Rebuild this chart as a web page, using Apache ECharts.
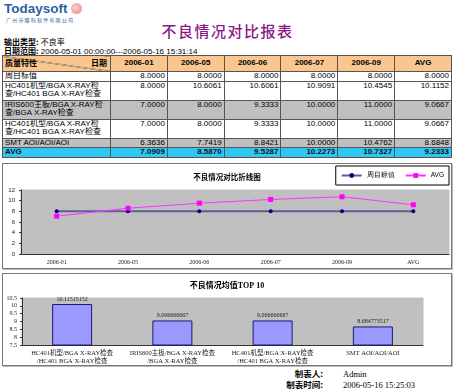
<!DOCTYPE html>
<html><head><meta charset="utf-8">
<script src="https://cdn.jsdelivr.net/npm/echarts@6/dist/echarts.min.js"></script>
<style>
html,body{margin:0;padding:0;background:#fff;width:455px;height:390px;overflow:hidden;position:relative;font-family:"Liberation Sans","Noto Sans CJK SC",sans-serif;}
.abs{position:absolute;}
#logo{left:4px;top:1px;font:bold 13.5px "Liberation Sans",sans-serif;color:#2a62a8;letter-spacing:0px;}
#logoDot{left:71px;top:3px;width:11px;height:11px;border-radius:50%;background:radial-gradient(circle at 40% 40%,#fbd0d0,#e88080);}
#logoSub{left:6px;top:16px;font-size:5px;color:#2a62a8;letter-spacing:1.2px;}
#title{left:0;width:455px;top:20px;text-align:center;font:500 15px "Noto Sans CJK SC",sans-serif;color:#8a1a8a;letter-spacing:1.5px;}
.info{left:4px;font-size:8px;color:#000;}
.info b{font-family:"Noto Sans CJK SC";}
table{position:absolute;left:2px;top:55px;border-collapse:collapse;width:450px;font-size:8px;table-layout:fixed;}
td{border:1px solid #555;padding:0 2px;line-height:8.5px;vertical-align:top;overflow:hidden;}
td.n{text-align:right;}
tr.h td{background:#f9c690;font-weight:bold;text-align:center;vertical-align:middle;}
tr.g td{background:#c0c0c0;}
tr.a td{background:#2fc8f5;font-weight:bold;color:#111;}
td.diag{background:linear-gradient(to top right,#f9c690 calc(50% - 0.6px),#444 50%,#f9c690 calc(50% + 0.6px)) !important;text-align:left !important;position:relative;}
.box{position:absolute;left:2px;width:450px;box-sizing:border-box;border:1px solid #777;box-shadow:1px 1px 0 #bbb;}
.foot{font-size:8.5px;}
.foot b{font-family:"Noto Sans CJK SC";display:inline-block;width:70px;text-align:right;margin-right:20px;}
.foot span{font-family:"Liberation Serif",serif;}
</style></head>
<body>
<div id="logo" class="abs">Todaysoft</div>
<div id="logoDot" class="abs"></div>
<div id="logoSub" class="abs">广州市腾科软件有限公司</div>
<div id="title" class="abs">不良情况对比报表</div>
<div class="abs info" style="top:36px"><b>输出类型:</b> 不良率</div>
<div class="abs info" style="top:45px"><b>日期范围:</b> 2006-05-01 00:00:00---2006-05-16 15:31:14</div>
<table id="tbl"></table>
<div id="lineChart" class="box" style="top:163px;height:106px;"></div>
<div id="barChart" class="box" style="top:273px;height:93px;"></div>
<div class="abs foot" style="left:253px;top:367px;"><b>制表人:</b><span>Admin</span></div>
<div class="abs foot" style="left:253px;top:378px;"><b>制表时间:</b><span>2006-05-16 15:25:03</span></div>
<script>
// ---- data ----
var periods = ['2006-01','2006-05','2006-06','2006-07','2006-09','AVG'];
var rowNames = ['周目标值','HC401机型/BGA X-RAY检查/HC401 BGA X-RAY检查','IRIS600主板/BGA X-RAY检查/BGA X-RAY检查','HC401机型/BGA X-RAY检查/HC401 BGA X-RAY检查','SMT AOI/AOI/AOI','AVG'];
var targetValues = [8.0000, 8.0000, 8.0000, 8.0000, 8.0000, 8.0000];
var hc401aValues = [8.0000, 10.6061, 10.6061, 10.9091, 10.4545, 10.1152];
var irisValues   = [7.0000, 8.0000, 9.3333, 10.0000, 11.0000, 9.0667];
var hc401bValues = [7.0000, 8.0000, 9.3333, 10.0000, 11.0000, 9.0667];
var smtValues    = [6.3636, 7.7419, 8.8421, 10.0000, 10.4762, 8.6848];
var avgValues    = [7.0909, 8.5870, 9.5287, 10.2273, 10.7327, 9.2333];
var lineLegend = ['周目标值','AVG'];
var topCategories = ['HC401机型/BGA X-RAY检查\n/HC401 BGA X-RAY检查','IRIS600主板/BGA X-RAY检查\n/BGA X-RAY检查','HC401机型/BGA X-RAY检查\n/HC401 BGA X-RAY检查','SMT AOI/AOI/AOI'];
var topValues = [10.11515152, 9.066666667, 9.066666667, 8.684773517];
var topLabels = ['10.11515152','9.066666667','9.066666667','8.684773517'];

// ---- table ----
var rows = [targetValues, hc401aValues, irisValues, hc401bValues, smtValues, avgValues];
var rowCls = ['', '', 'g', '', 'g', 'a'];
var rowH = [8, 18, 18, 18, 8, 8];
var html = '<colgroup><col style="width:108px">' + periods.map(function(){return '<col>';}).join('') + '</colgroup>';
html += '<tr class="h"><td class="diag" style="height:15px"><span style="position:absolute;left:2px;top:4px">质量特性</span><span style="position:absolute;right:3px;top:4px">日期</span></td>' + periods.map(function(p){return '<td>'+p+'</td>';}).join('') + '</tr>';
rows.forEach(function(r,i){
  html += '<tr class="'+rowCls[i]+'"><td style="height:'+rowH[i]+'px;word-break:break-all">'+rowNames[i]+'</td>' + r.map(function(v){return '<td class="n">'+v.toFixed(4)+'</td>';}).join('') + '</tr>';
});
document.getElementById('tbl').innerHTML = html;

var serifFont = '"Liberation Serif","Noto Sans CJK SC",serif';

// ---- line chart ----
var lc = echarts.init(document.getElementById('lineChart'));
lc.setOption({
  animation:false,
  title:{text:'不良情况对比折线图',left:'center',top:4,textStyle:{fontSize:7.5,fontWeight:'bold',color:'#000',fontFamily:'"Noto Sans CJK SC",sans-serif'}},
  legend:{data:lineLegend,right:2,top:2,borderColor:'#000',borderWidth:1,padding:[6,5],itemWidth:20,itemHeight:6,itemGap:10,textStyle:{fontSize:6.5,color:'#000'}},
  grid:{left:18,right:2,top:26,bottom:14,show:true,backgroundColor:'#c0c0c0',borderColor:'#c0c0c0'},
  xAxis:{type:'category',data:periods,axisLine:{lineStyle:{color:'#333'}},axisTick:{length:2,lineStyle:{color:'#333'}},axisLabel:{fontSize:6,color:'#222',margin:5,fontFamily:serifFont}},
  yAxis:{type:'value',min:0,max:12,interval:2,axisLine:{show:true,lineStyle:{color:'#333'}},axisTick:{show:true,length:2},splitLine:{show:false},axisLabel:{fontSize:6,color:'#222',margin:6}},
  series:[
    {name:'周目标值',type:'line',data:targetValues,symbol:'circle',symbolSize:4,itemStyle:{color:'#000080'},lineStyle:{color:'#5c5c99',width:2}},
    {name:'AVG',type:'line',data:avgValues,symbol:'rect',symbolSize:5,itemStyle:{color:'#ff00ff'},lineStyle:{color:'#ff33ff',width:1}}
  ]
});

// ---- bar chart ----
var bc = echarts.init(document.getElementById('barChart'));
bc.setOption({
  animation:false,
  title:{text:'不良情况均值TOP 10',left:'center',top:3,textStyle:{fontSize:8,fontWeight:'bold',color:'#000',fontFamily:serifFont}},
  grid:{left:19,right:28,top:24,bottom:19,show:true,backgroundColor:'#c0c0c0',borderColor:'#c0c0c0'},
  xAxis:{type:'category',data:topCategories,axisLine:{lineStyle:{color:'#333'}},axisTick:{length:2},axisLabel:{interval:0,fontSize:6.5,lineHeight:8,color:'#222',margin:4,fontFamily:serifFont}},
  yAxis:{type:'value',min:7.5,max:10.5,interval:0.5,axisLine:{show:true,lineStyle:{color:'#333'}},axisTick:{show:true,length:2},splitLine:{show:false},axisLabel:{fontSize:6,color:'#222',margin:5,fontFamily:serifFont}},
  series:[{type:'bar',data:topValues,barWidth:40,itemStyle:{color:'#9999ff',borderColor:'#1a1a6e',borderWidth:1},
    label:{show:true,position:'top',distance:2,fontSize:6,color:'#222',fontFamily:serifFont,formatter:function(p){return topLabels[p.dataIndex];}}}]
});
</script>
</body></html>
